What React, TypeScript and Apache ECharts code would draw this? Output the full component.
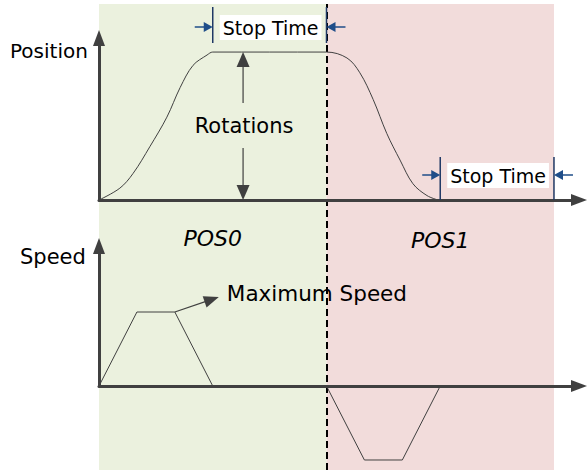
import React, { useEffect, useRef } from "react";
import * as echarts from "echarts";

// ---- data ----
const phaseNames = ["POS0", "POS1"];
const phaseStart = [0, 6];
const phaseEnd = [6, 12];
const phaseColors = ["#EBF1DE", "#F2DCDB"];

// position curve (time units, normalized rotations)
const positionCurve: number[][] = [
  [0, 0], [0.55, 0.08], [0.9, 0.18], [1.34, 0.36], [1.79, 0.56], [2.14, 0.76],
  [2.48, 0.91], [2.85, 0.98], [3, 1], [6, 1], [6.54, 0.96], [6.88, 0.86],
  [7.23, 0.68], [7.59, 0.45], [7.94, 0.27], [8.28, 0.11], [8.65, 0.03], [8.94, 0],
];
// speed profiles
const speedPos0: number[][] = [[0, 0], [1, 1], [2, 1], [3, 0]];
const speedPos1: number[][] = [[6, 0], [7, -1], [8, -1], [9, 0]];
// stop time intervals
const stopIntervals: number[][] = [[3, 6], [9, 12]];
const stopLabel = "Stop Time";
const rotationTime = 3.8;
const xMax = 12.66;
const posMax = 1.095;
const speedMax = 1.892;

const FONT = '"DejaVu Sans", Verdana, sans-serif';
const AXIS = "#404040";
const BLUE = "#1F4E89";
const NAVY = "#1F3864";

export default function App() {
  const ref = useRef<HTMLDivElement>(null);
  useEffect(() => {
    if (!ref.current) return;
    const chart = echarts.init(ref.current, null, { renderer: "svg" });
    const axisBase = (i: number, show: boolean) => ({
      type: "value",
      gridIndex: i,
      min: 0,
      show,
      z: 10,
      axisLine: {
        show,
        symbol: ["none", "triangle"],
        symbolSize: [12, 16],
        lineStyle: { color: AXIS, width: 3 },
      },
      axisTick: { show: false },
      axisLabel: { show: false },
      splitLine: { show: false },
    });
    chart.setOption({
      animation: false,
      grid: [
        { left: 99, right: 8, top: 38, height: 162 },
        { left: 99, right: 8, top: 246, height: 140 },
        { left: 99, right: 8, top: 4, height: 466 },
      ],
      xAxis: [
        { ...axisBase(0, true), max: xMax },
        { ...axisBase(1, true), max: xMax },
        { ...axisBase(2, false), max: xMax },
      ],
      yAxis: [
        { ...axisBase(0, true), max: posMax },
        { ...axisBase(1, true), max: speedMax },
        { ...axisBase(2, false), max: 1 },
      ],
      series: [
        {
          type: "line",
          xAxisIndex: 2,
          yAxisIndex: 2,
          z: 1,
          data: [[0, 0]],
          symbol: "none",
          lineStyle: { opacity: 0 },
          silent: true,
          markArea: {
            silent: true,
            data: phaseNames.map((_, i) => [
              { xAxis: phaseStart[i], itemStyle: { color: phaseColors[i] } },
              { xAxis: phaseEnd[i] },
            ]),
          },
          markLine: {
            silent: true,
            symbol: "none",
            label: { show: false },
            lineStyle: { color: "#000", width: 2, type: [7, 4] },
            data: [{ xAxis: phaseEnd[0] }],
          },
        },
        {
          type: "line",
          xAxisIndex: 0,
          yAxisIndex: 0,
          z: 5,
          data: positionCurve,
          smooth: 0.35,
          symbol: "none",
          lineStyle: { color: AXIS, width: 1 },
        },
        {
          type: "line",
          xAxisIndex: 1,
          yAxisIndex: 1,
          z: 5,
          clip: false,
          data: speedPos0,
          symbol: "none",
          lineStyle: { color: AXIS, width: 1 },
        },
        {
          type: "line",
          xAxisIndex: 1,
          yAxisIndex: 1,
          z: 5,
          clip: false,
          data: speedPos1,
          symbol: "none",
          lineStyle: { color: AXIS, width: 1 },
        },
      ],
    });

    const P = (g: number, t: number, v: number) =>
      chart.convertToPixel({ gridIndex: g } as any, [t, v]) as number[];

    const els: any[] = [];
    const ln = (x1: number, y1: number, x2: number, y2: number, c: string, w: number) =>
      els.push({ type: "line", z: 100, shape: { x1, y1, x2, y2 }, style: { stroke: c, lineWidth: w } });
    const head = (tx: number, ty: number, ang: number, len: number, wid: number, c: string) => {
      const bx = tx - len * Math.cos(ang);
      const by = ty - len * Math.sin(ang);
      const px = -Math.sin(ang) * wid / 2;
      const py = Math.cos(ang) * wid / 2;
      els.push({
        type: "polygon", z: 100,
        shape: { points: [[tx, ty], [bx + px, by + py], [bx - px, by - py]] },
        style: { fill: c },
      });
    };
    const arrow = (x1: number, y1: number, x2: number, y2: number, c: string, w: number, len: number, wid: number) => {
      const ang = Math.atan2(y2 - y1, x2 - x1);
      ln(x1, y1, x2 - len * Math.cos(ang) * 0.8, y2 - len * Math.sin(ang) * 0.8, c, w);
      head(x2, y2, ang, len, wid, c);
    };
    const txt = (s: string, x: number, y: number, size: number, align: string, extra: any = {}) =>
      els.push({
        type: "text", z: 101, x, y,
        style: { text: s, font: `${size}px ${FONT}`, fill: "#000", align, verticalAlign: "middle", ...extra },
      });

    // axis names
    txt("Position", 10, 51, 20, "left");
    txt("Speed", 20, 257, 21, "left");

    // phase names
    phaseNames.forEach((n, i) => {
      const c = P(0, (phaseStart[i] + phaseEnd[i]) / 2, 0);
      txt(n, c[0], i === 0 ? 238 : 240, 22, "center", { font: `italic 22px ${FONT}` });
    });

    // rotations double arrow
    const rTop = P(0, rotationTime, 1);
    const rBot = P(0, rotationTime, 0);
    const mid = (rTop[1] + rBot[1]) / 2;
    arrow(rTop[0], mid - 23, rTop[0], rTop[1], AXIS, 1.2, 15, 13);
    arrow(rBot[0], mid + 22, rBot[0], rBot[1], AXIS, 1.2, 15, 13);
    txt("Rotations", rTop[0] + 1, mid, 21, "center");

    // maximum speed
    const ms = P(1, speedPos0[2][0], speedPos0[2][1]);
    arrow(ms[0], ms[1], ms[0] + 44, ms[1] - 15, AXIS, 1.2, 15, 12);
    txt("Maximum Speed", ms[0] + 52, ms[1] - 19, 21.5, "left");

    // stop time markers
    const zeroY = P(0, 0, 0)[1];
    const rows = [
      { top: 7, bot: 43, ay: 27 },
      { top: 157, bot: zeroY, ay: 175 },
    ];
    stopIntervals.forEach((iv, i) => {
      const r = rows[i];
      const a = P(0, iv[0], 0)[0];
      const b = P(0, iv[1], 0)[0];
      ln(a, r.top, a, r.bot, NAVY, 1.5);
      ln(b, r.top, b, r.bot, NAVY, 1.5);
      arrow(a - 18, r.ay, a, r.ay, BLUE, 1.5, 9, 10);
      arrow(b + 19, r.ay, b, r.ay, BLUE, 1.5, 9, 10);
      txt(stopLabel, a + 7, r.ay + 0.5, 19, "left", {
        backgroundColor: "#fff",
        padding: [3, 3, 3, 3],
      });
    });

    chart.setOption({ graphic: els });
    return () => chart.dispose();
  }, []);
  return (
    <div
      ref={ref}
      style={{ position: "fixed", left: 0, top: 0, width: 587, height: 470, background: "#fff" }}
    />
  );
}
